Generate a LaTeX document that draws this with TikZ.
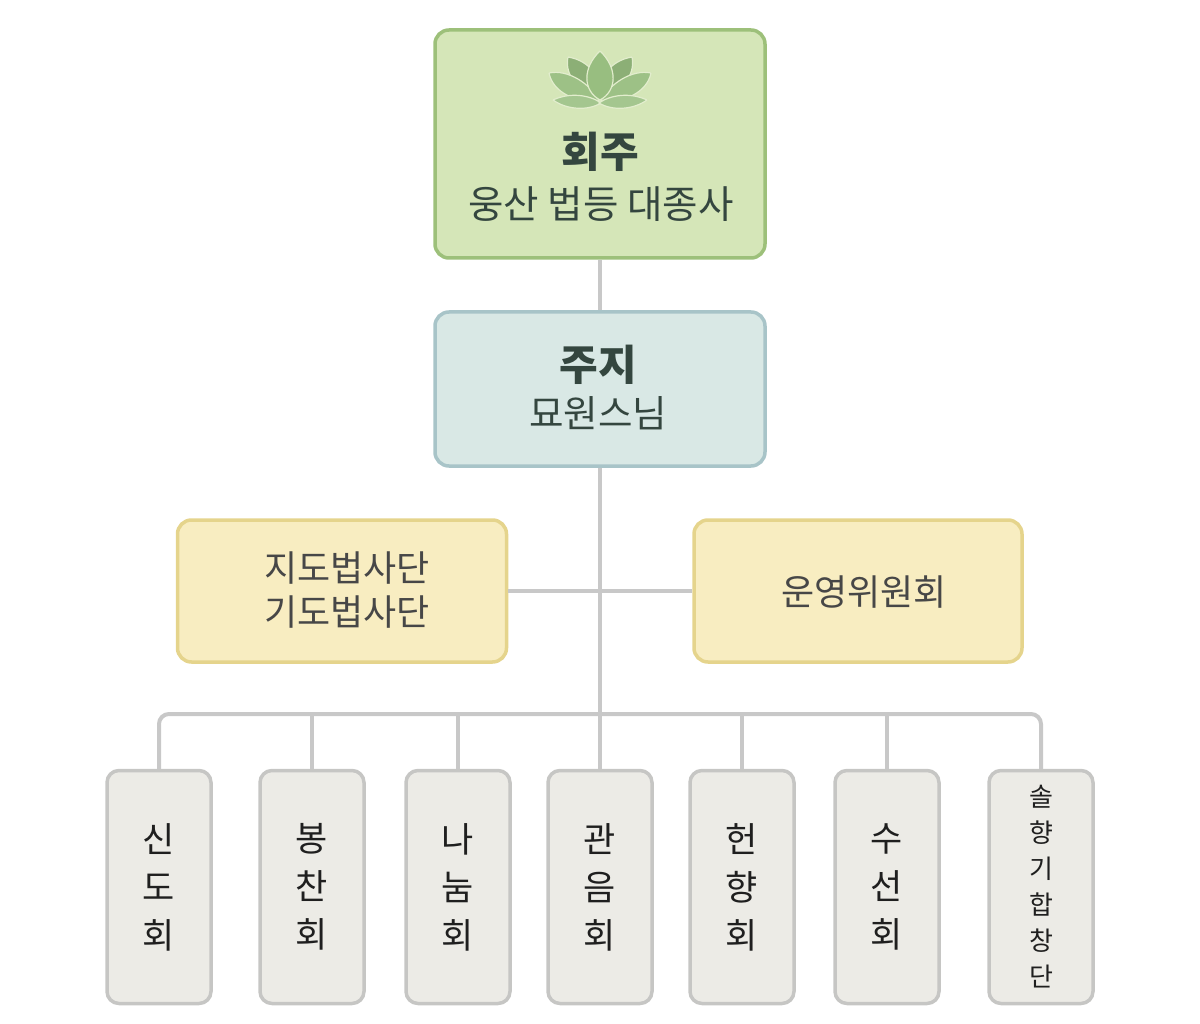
\documentclass[tikz,border=0pt]{standalone}
\usepackage{fontspec}
\setmainfont{Noto Sans CJK KR}
\usetikzlibrary{positioning}
\definecolor{hzfill}{HTML}{D5E6B8}
\definecolor{hzline}{HTML}{9DC07A}
\definecolor{jjfill}{HTML}{D9E8E5}
\definecolor{jjline}{HTML}{A8C4C8}
\definecolor{ywfill}{HTML}{F8EDC1}
\definecolor{ywline}{HTML}{E5D48C}
\definecolor{gyfill}{HTML}{ECEBE6}
\definecolor{gyline}{HTML}{C6C6C4}
\definecolor{conn}{HTML}{C8C8C8}
\definecolor{lotus}{HTML}{98BE80}
\definecolor{txtdark}{HTML}{34463F}

\begin{document}
\begin{tikzpicture}[x=1pt,y=-1pt,
	box/.style={rounded corners=14pt,line width=3.5pt,inner sep=0pt},
	unit/.style={box,fill=gyfill,draw=gyline,minimum width=104pt,minimum height=233pt,rounded corners=12pt,align=center,font=\fontsize{35}{48}\selectfont,text=black!88},
	link/.style={draw=conn,line width=4pt}]
	\useasboundingbox (0,0) rectangle (1200,1024);
	% boxes
	\node[box,fill=hzfill,draw=hzline,minimum width=330pt,minimum height=228pt] (hoiju) at (600,144) {};
	\node[box,fill=jjfill,draw=jjline,minimum width=330pt,minimum height=154pt] (juji) at (600,389) {};
	\node[box,fill=ywfill,draw=ywline,minimum width=329pt,minimum height=142pt] (jido) at (342,591) {};
	\node[box,fill=ywfill,draw=ywline,minimum width=328pt,minimum height=142pt] (unyeong) at (858,591) {};
	\foreach \n/\x/\t in {sindo/159/{신\\도\\회},bongchan/312/{봉\\찬\\회},nanum/458/{나\\눔\\회},gwaneum/600/{관\\음\\회},heonhyang/742/{헌\\향\\회},suseon/887/{수\\선\\회}}
		\node[unit] (\n) at (\x,887) {\t};
	\node[unit,font=\fontsize{26}{36}\selectfont] (solhyang) at (1041,887) {솔\\향\\기\\합\\창\\단};
	
	% lotus
	\foreach \s in {1,-1}{
	\begin{scope}[xshift={600*(1-\s)},xscale=\s,draw=hzfill!70!white,line width=1.2pt]
		\filldraw[fill=lotus!92!black] (568,57) .. controls (564,76) and (580,93) .. (599,98) .. controls (601,78) and (591,61) .. (568,57);
		\filldraw[fill=lotus!95!white] (549,73) .. controls (568,69) and (591,84) .. (599,101) .. controls (577,103) and (553,93) .. (549,73);
		\filldraw[fill=lotus!88!white] (553,100) .. controls (570,92) and (590,95) .. (601,103) .. controls (588,111) and (567,110) .. (553,100);
	\end{scope}}
	\filldraw[fill=lotus,draw=hzfill!70!white,line width=1.2pt] (600,51) .. controls (582,68) and (583,91) .. (600,100) .. controls (617,91) and (618,68) .. (600,51);
	
	% labels
	\node[text=txtdark,font=\fontsize{42}{50}\bfseries] (hoijutitle) at (600,152) {회주};
	\node[text=txtdark,font=\fontsize{38.5}{46}\selectfont] (hoijuname) at (601,204) {웅산 법등 대종사};
	\node[text=txtdark,font=\fontsize{42}{50}\bfseries] (jujititle) at (598,365) {주지};
	\node[text=txtdark,font=\fontsize{37.5}{46}\selectfont] (jujiname) at (598,413) {묘원스님};
	\node[text=black!72,align=center,font=\fontsize{36}{44}\selectfont] (jidotxt) at (347,590) {지도법사단\\기도법사단};
	\node[text=black!72,font=\fontsize{36}{44}\selectfont] (unyeongtxt) at (864,592) {운영위원회};
	
	% connectors
	\coordinate (bus) at (600,714);
	\draw[link] (hoiju.south) -- (juji.north);
	\draw[link] (juji.south) -- (gwaneum.north);
	\draw[link] (jido.east) -- (unyeong.west);
	\draw[link,rounded corners=10pt] (sindo.north) |- (bus) -| (solhyang.north);
	\foreach \n in {bongchan,nanum,heonhyang,suseon}
		\draw[link] (\n.north) -- (\n.north |- bus);
\end{tikzpicture}
\end{document}
